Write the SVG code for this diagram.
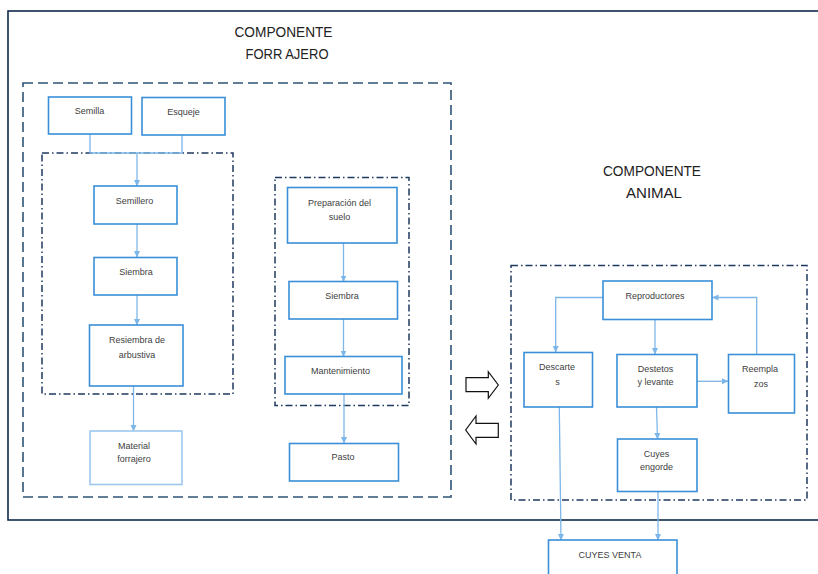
<svg xmlns="http://www.w3.org/2000/svg" width="818" height="574" viewBox="0 0 818 574">
<defs>
<style>
.node{fill:#ffffff;stroke:#3a8fd8;stroke-width:1.6}
.light{fill:#ffffff;stroke:#9cc8ee;stroke-width:1.6}
.t{font-family:"Liberation Sans",Arial,sans-serif;font-size:9px;fill:#404040;text-anchor:middle}
.title{font-family:"Liberation Sans",Arial,sans-serif;font-size:15px;fill:#222222;text-anchor:middle}
.con{fill:none;stroke:#7db6e8;stroke-width:1.3}
.dash{fill:none;stroke:#2f5475;stroke-width:1.6;stroke-dasharray:10 5}
.dd{fill:none;stroke:#1f3a5f;stroke-width:1.5;stroke-dasharray:7 3 1.5 3}
.blk{fill:#ffffff;stroke:#111111;stroke-width:1.2}
</style>
<marker id="ah" markerWidth="7" markerHeight="7" refX="6" refY="3.5" orient="auto" markerUnits="userSpaceOnUse">
<path d="M0,0.5 L6.5,3.5 L0,6.5 z" fill="#7db6e8"/>
</marker>
</defs>
<rect width="818" height="574" fill="#ffffff"/>
<g id="frame">
<rect x="8" y="11" width="815" height="509" fill="none" stroke="#0f2a4a" stroke-width="1.6"/>
</g>
<g id="titles">
<text class="title" x="283.5" y="37" textLength="98" lengthAdjust="spacingAndGlyphs">COMPONENTE</text>
<text class="title" x="287" y="59" textLength="83" lengthAdjust="spacingAndGlyphs">FORR AJERO</text>
<text class="title" x="652" y="176" textLength="98" lengthAdjust="spacingAndGlyphs">COMPONENTE</text>
<text class="title" x="654" y="198" textLength="56" lengthAdjust="spacingAndGlyphs">ANIMAL</text>
</g>
<g id="groups">
<rect class="dash" x="23" y="83" width="428" height="414"/>
<rect class="dd" x="42" y="153" width="191" height="241"/>
<rect class="dd" x="275" y="177.5" width="134" height="228"/>
<rect class="dd" x="511" y="265.5" width="296" height="234.5"/>
</g>
<g id="connectors">
<path class="con" d="M90,134 V153 H182 V135"/>
<path class="con" d="M137,153 V186" marker-end="url(#ah)"/>
<path class="con" d="M137,224 V257" marker-end="url(#ah)"/>
<path class="con" d="M137,295 V325" marker-end="url(#ah)"/>
<path class="con" d="M133.5,386 V431" marker-end="url(#ah)"/>
<path class="con" d="M343.5,243 V281.5" marker-end="url(#ah)"/>
<path class="con" d="M343.5,319 V356.5" marker-end="url(#ah)"/>
<path class="con" d="M344,394 V443" marker-end="url(#ah)"/>
<path class="con" d="M603,297.5 H555.7 V352" marker-end="url(#ah)"/>
<path class="con" d="M655,319.5 V354" marker-end="url(#ah)"/>
<path class="con" d="M756.7,354.5 V297.5 H712.5" marker-end="url(#ah)"/>
<path class="con" d="M697,381.3 H728" marker-end="url(#ah)"/>
<path class="con" d="M656.5,407 L657.5,439" marker-end="url(#ah)"/>
<path class="con" d="M559.3,407 L561,540" marker-end="url(#ah)"/>
<path class="con" d="M658,491.7 V540" marker-end="url(#ah)"/>
</g>
<g id="semilla"><rect class="node" x="48.5" y="97" width="83" height="37"/><text class="t" x="89.5" y="114">Semilla</text></g>
<g id="esqueje"><rect class="node" x="142" y="97.5" width="83" height="37.5"/><text class="t" x="183.5" y="114.5">Esqueje</text></g>
<g id="semillero"><rect class="node" x="94" y="186" width="83" height="38"/><text class="t" x="134.5" y="203.5">Semillero</text></g>
<g id="siembra1"><rect class="node" x="94" y="257.5" width="83" height="37.5"/><text class="t" x="136" y="275">Siembra</text></g>
<g id="resiembra"><rect class="node" x="89.5" y="325" width="93.5" height="61"/><text class="t" x="137" y="342.5">Resiembra  de</text><text class="t" x="137" y="357.5">arbustiva</text></g>
<g id="material"><rect class="light" x="90" y="431" width="92" height="53.5"/><text class="t" x="134" y="448.5">Material</text><text class="t" x="134" y="461.5">forrajero</text></g>
<g id="preparacion"><rect class="node" x="287.5" y="187.5" width="109.5" height="55.5"/><text class="t" x="339.5" y="206">Preparación del</text><text class="t" x="339.5" y="220">suelo</text></g>
<g id="siembra2"><rect class="node" x="289" y="281.5" width="108.5" height="37.5"/><text class="t" x="342" y="299">Siembra</text></g>
<g id="mantenimiento"><rect class="node" x="285" y="356.5" width="117" height="37.5"/><text class="t" x="340.5" y="374">Mantenimiento</text></g>
<g id="pasto"><rect class="node" x="289.5" y="443.5" width="109" height="37.5"/><text class="t" x="343" y="460">Pasto</text></g>
<g id="reproductores"><rect class="node" x="603" y="281" width="109" height="38.5"/><text class="t" x="655" y="299">Reproductores</text></g>
<g id="descartes"><rect class="node" x="524" y="352.5" width="68.5" height="54.5"/><text class="t" x="557" y="369.5">Descarte</text><text class="t" x="557.5" y="384.5">s</text></g>
<g id="destetos"><rect class="node" x="617" y="354.5" width="80" height="52.5"/><text class="t" x="655.5" y="371.5">Destetos</text><text class="t" x="655.5" y="384.5">y levante</text></g>
<g id="reemplazos"><rect class="node" x="728.5" y="354.5" width="66" height="58.5"/><text class="t" x="760" y="371.5">Reempla</text><text class="t" x="761" y="386.5">zos</text></g>
<g id="engorde"><rect class="node" x="617.5" y="439" width="79.5" height="52.5"/><text class="t" x="656.5" y="456.5">Cuyes</text><text class="t" x="656.5" y="470">engorde</text></g>
<g id="venta"><rect class="node" x="548.5" y="540" width="128.5" height="40"/><text class="t" x="610" y="557.5">CUYES VENTA</text></g>
<g id="exchange">
<path class="blk" d="M466,377.7 H488.3 V371.7 L498.3,385 L488.3,398.3 V391.7 H466 Z"/>
<path class="blk" d="M498.3,423.3 H476 V416 L465.7,430 L476,444 V437.3 H498.3 Z"/>
</g>
</svg>
